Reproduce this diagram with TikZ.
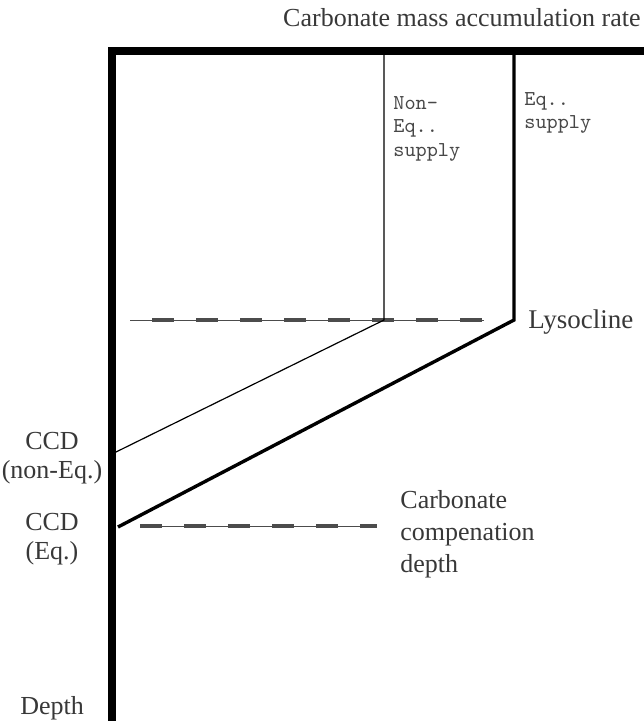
\documentclass[tikz,border=0pt]{standalone}
\usepackage{fontspec}
\setmainfont{Liberation Serif}
\usetikzlibrary{positioning}

\tikzset{
  axisline/.style={line width=3.9pt, line join=miter},
  supplyeq/.style={line width=1.7pt, line join=miter},
  supplynoneq/.style={line width=0.6pt, line join=miter},
  levelbase/.style={black!70, line width=0.5pt},
  leveldash/.style={black!70, line width=2.4pt, dash pattern=on 10.8pt off 11.2pt},
  lbl/.style={text=black!78, inner sep=0pt, font=\fontsize{13}{14.2}\selectfont},
  tlbl/.style={text=black!72, inner sep=0pt, font=\ttfamily\fontsize{10.6}{11.8}\selectfont, align=left},
}

\begin{document}
\begin{tikzpicture}[x=0.5pt, y=-0.5pt]
  \useasboundingbox (0,0) rectangle (643,721);

  % corner points
  \coordinate (origin) at (112,51);
  \coordinate (bottom) at (112,723);
  \coordinate (right)  at (645,51);
  \coordinate (noneqtop) at (384,51);
  \coordinate (eqtop)    at (514,51);
  \coordinate (noneqlys) at (384,320);
  \coordinate (eqlys)    at (514,320);
  \coordinate (noneqccd) at (116,452);
  \coordinate (eqccd)    at (118,527);

  % lysocline and ccd levels
  \draw [levelbase] (130,320) -- (484,320);
  \draw [leveldash] (152,320) -- (484,320);
  \draw [levelbase] (140,526) -- (377,526);
  \draw [leveldash] (140,526) -- (377,526);

  % supply curves
  \draw [supplynoneq] (noneqtop) -- (noneqlys) -- (noneqccd);
  \draw [supplyeq] (eqtop) -- (eqlys) -- (eqccd);

  % axes
  \draw [axisline] (bottom) -- (origin) -- (right);

  % labels
  \node [lbl, anchor=base east] (title) at (641,27) {Carbonate mass accumulation rate};
  \node [tlbl, anchor=north west] (noneq) at (393,96) {Non-\\Eq..\\supply};
  \node [tlbl, anchor=north west] (eq) at (524,92) {Eq..\\supply};
  \node [lbl, anchor=base west, font=\fontsize{13.5}{14.2}\selectfont] (lyso) at (528,328) {Lysocline};
  \node [lbl, align=center, anchor=north] (ccdnoneq) at (52,432) {CCD\\(non-Eq.)};
  \node [lbl, align=center, anchor=north] (ccdeq) at (52,513) {CCD\\(Eq.)};
  \node [lbl, align=left, anchor=north west, font=\fontsize{13}{16}\selectfont] (ccdtext) at (400,490) {Carbonate\\compenation\\depth};
  \node [lbl, anchor=base west] (depth) at (20,714) {Depth};
\end{tikzpicture}
\end{document}
